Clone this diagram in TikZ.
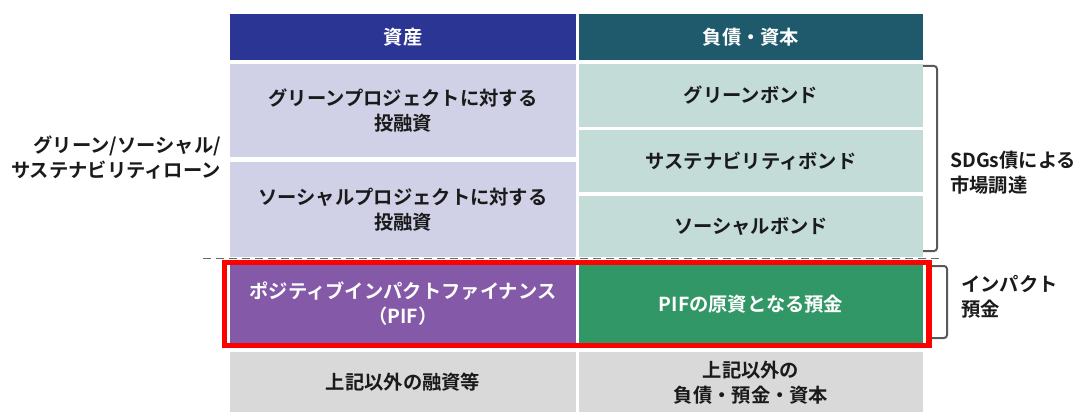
\documentclass[tikz,border=0pt]{standalone}
\usepackage{fontspec}
\setmainfont{Noto Sans CJK JP}[BoldFont={Noto Sans CJK JP Bold}]
\definecolor{hdrA}{HTML}{2B3594}
\definecolor{hdrL}{HTML}{1F5A6C}
\definecolor{lavA}{HTML}{D0D0E6}
\definecolor{tealL}{HTML}{C3DCD8}
\definecolor{pifP}{HTML}{8459A7}
\definecolor{depG}{HTML}{329766}
\definecolor{grayO}{HTML}{D9D9D9}
\definecolor{brk}{HTML}{595959}
\definecolor{txt}{HTML}{1A1A1A}
\tikzset{
  cell/.style={inner sep=0pt, outer sep=0pt, align=center, font=\fontsize{19.3}{25}\selectfont\bfseries, text=txt},
  hdr/.style={cell, text=white},
  side/.style={inner sep=0pt, font=\fontsize{19.3}{25}\selectfont\bfseries, text=txt},
}
\begin{document}
\begin{tikzpicture}[x=1pt,y=-1pt]
\useasboundingbox (0,0) rectangle (1079,412);
% headers
\node[hdr, fill=hdrA, minimum width=346pt, minimum height=46pt] (hA) at (403,37) {資産};
\node[hdr, fill=hdrL, minimum width=344pt, minimum height=46pt] (hL) at (751,37) {負債・資本};
% asset rows
\node[cell, fill=lavA, minimum width=346pt, minimum height=93pt] (a1) at (403,110.5) {グリーンプロジェクトに対する\\投融資};
\node[cell, fill=lavA, minimum width=346pt, minimum height=95pt] (a2) at (403,209.5) {ソーシャルプロジェクトに対する\\投融資};
% bond rows
\node[cell, fill=tealL, minimum width=344pt, minimum height=63pt] (b1) at (751,95.5) {グリーンボンド};
\node[cell, fill=tealL, minimum width=344pt, minimum height=62pt] (b2) at (751,161) {サステナビリティボンド};
\node[cell, fill=tealL, minimum width=344pt, minimum height=61pt] (b3) at (751,226.5) {ソーシャルボンド};
% PIF row
\node[hdr, fill=pifP, minimum width=346pt, minimum height=78pt] (pif) at (403,304) {ポジティブインパクトファイナンス\\（PIF）};
\node[hdr, fill=depG, minimum width=344pt, minimum height=78pt] (dep) at (751,304) {PIFの原資となる預金};
% others
\node[cell, fill=grayO, minimum width=346pt, minimum height=61pt] (o1) at (403,382.5) {上記以外の融資等};
\node[cell, fill=grayO, minimum width=344pt, minimum height=61pt] (o2) at (751,382.5) {上記以外の\\負債・預金・資本};
% dashed separator
\coordinate (dL) at (203,258.5);
\coordinate (dR) at (940,258.5);
\draw[brk!90, line width=1.8pt, dash pattern=on 8pt off 5pt] (dL) -- (dR);
% red frame
\draw[red, line width=5.5pt] (224.5,262.5) rectangle (929,345.5);
% brackets
\draw[brk, line width=2pt, rounded corners=3pt] (923,66) -- (937,66) -- (937,251) -- (923,251);
\draw[brk, line width=2pt, rounded corners=3pt] (932,266) -- (947,266) -- (947,338) -- (932,338);
% side labels
\node[side, anchor=east, align=right] (lg) at (221,157.5) {グリーン/ソーシャル/\\サステナビリティローン};
\node[side, anchor=west, align=left] (sdg) at (950,172.5) {SDGs債による\\市場調達};
\node[side, anchor=west, align=left] (imp) at (961,297) {インパクト\\預金};
\end{tikzpicture}
\end{document}
